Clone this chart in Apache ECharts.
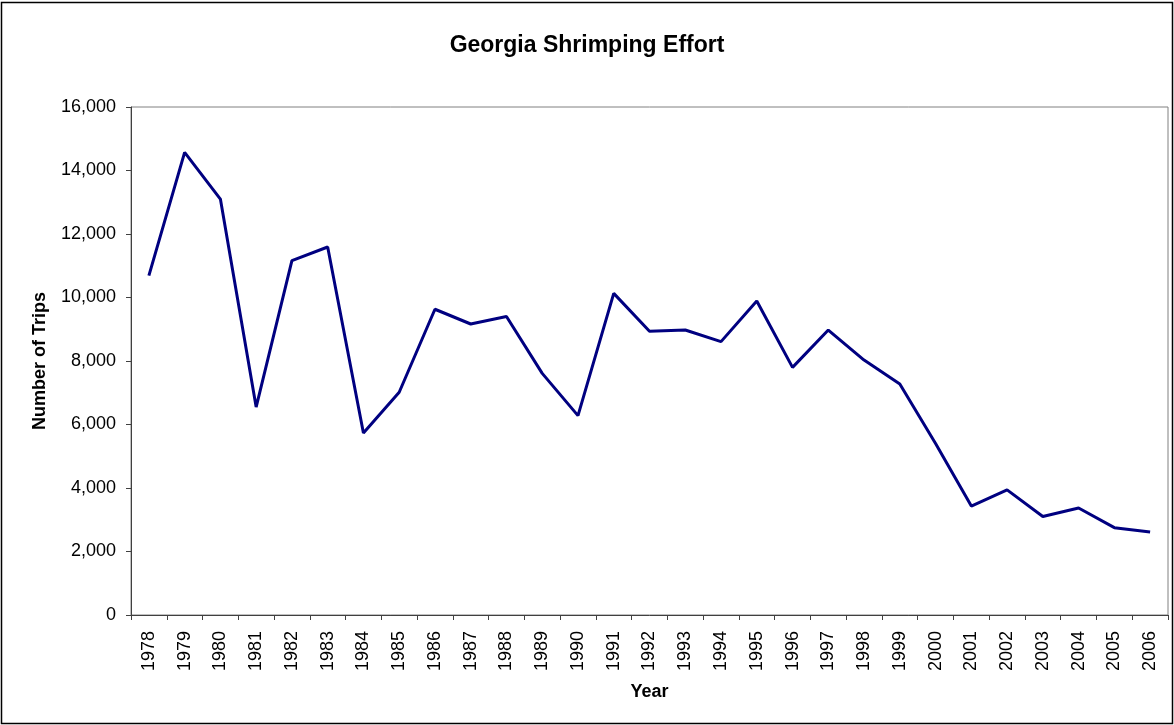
<!DOCTYPE html>
<html>
<head>
<meta charset="utf-8">
<title>Georgia Shrimping Effort</title>
<script src="https://cdn.jsdelivr.net/npm/echarts@6/dist/echarts.min.js"></script>
<style>
  html, body { margin: 0; padding: 0; background: #fff; }
  #chart { width: 1174px; height: 725px; }
</style>
</head>
<body>
<div id="chart"></div>
<script>
// 年份
var years = ['1978','1979','1980','1981','1982','1983','1984','1985','1986','1987',
  '1988','1989','1990','1991','1992','1993','1994','1995','1996','1997',
  '1998','1999','2000','2001','2002','2003','2004','2005','2006'];

// 出海次数
var trips = [10690, 14570, 13100, 6550, 11160, 11590, 5730, 7015, 9630, 9165,
  9400, 7610, 6280, 10130, 8935, 8975, 8610, 9890, 7800, 8975,
  8030, 7275, 5400, 3430, 3940, 3100, 3370, 2750, 2615];

var yTicks = [0, 2000, 4000, 6000, 8000, 10000, 12000, 14000, 16000];

var myChart = echarts.init(document.getElementById('chart'));

var font = 'Arial, "Liberation Sans", sans-serif';

var option = {
  backgroundColor: '#fff',
  animation: false,
  title: {
    text: 'Georgia Shrimping Effort',
    left: 'center',
    top: 29,
    textStyle: { fontFamily: font, fontSize: 23, fontWeight: 'bold', color: '#000' }
  },
  graphic: [{
    type: 'rect',
    shape: { x: 1.5, y: 2.5, width: 1171, height: 721 },
    style: { fill: 'none', stroke: '#000', lineWidth: 1.5 },
    silent: true
  }],
  grid: {
    left: 131,
    right: 6,
    top: 107,
    bottom: 110,
    show: true,
    borderColor: '#808080',
    borderWidth: 1,
    backgroundColor: '#fff'
  },
  xAxis: {
    type: 'category',
    data: years,
    boundaryGap: true,
    name: 'Year',
    nameLocation: 'middle',
    nameGap: 68,
    nameTextStyle: { fontFamily: font, fontSize: 18, fontWeight: 'bold', color: '#000' },
    axisLine: { lineStyle: { color: '#404040', width: 1 } },
    axisTick: { show: true, length: 5, alignWithLabel: false, lineStyle: { color: '#404040' } },
    axisLabel: {
      rotate: 90,
      margin: 16,
      interval: 0,
      fontFamily: font,
      fontSize: 18,
      color: '#000'
    },
    splitLine: { show: false }
  },
  yAxis: {
    type: 'value',
    min: yTicks[0],
    max: yTicks[yTicks.length - 1],
    interval: 2000,
    name: 'Number of Trips',
    nameLocation: 'middle',
    nameGap: 82,
    nameTextStyle: { fontFamily: font, fontSize: 18, fontWeight: 'bold', color: '#000' },
    axisLine: { show: true, lineStyle: { color: '#404040', width: 1 } },
    axisTick: { show: true, length: 5, lineStyle: { color: '#404040' } },
    axisLabel: {
      margin: 15,
      fontFamily: font,
      fontSize: 18,
      color: '#000',
      formatter: function (v) { return v.toLocaleString('en-US'); }
    },
    splitLine: { show: false }
  },
  series: [{
    name: 'Trips',
    type: 'line',
    data: trips,
    symbol: 'none',
    lineStyle: { color: '#000080', width: 3 },
    itemStyle: { color: '#000080' }
  }]
};

myChart.setOption(option);
</script>
</body>
</html>
